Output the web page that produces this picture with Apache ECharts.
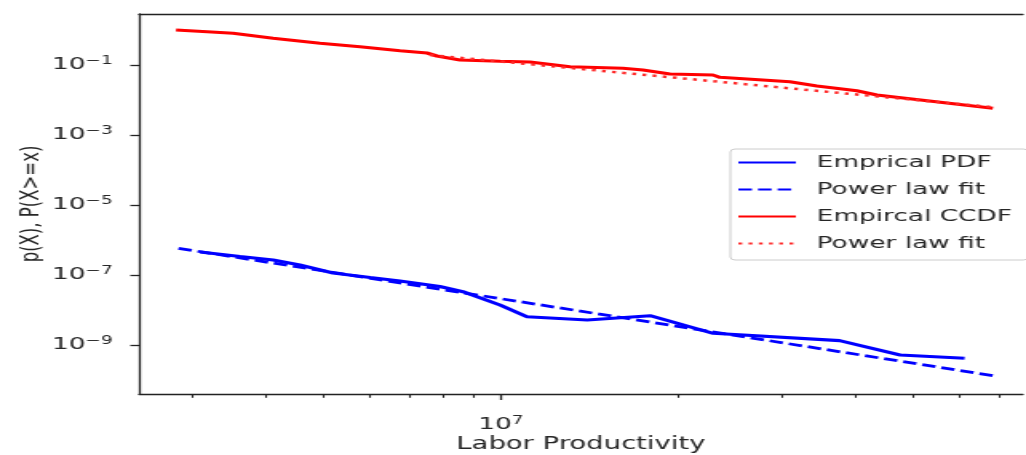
<!DOCTYPE html>
<html>
<head>
<meta charset="utf-8">
<script src="https://cdn.jsdelivr.net/npm/echarts@6/dist/echarts.min.js"></script>
<style>
  html, body { margin: 0; padding: 0; background: #fff; overflow: hidden; }
  #main { width: 642px; height: 455px; transform: scaleX(1.59813); transform-origin: 0 0; }
</style>
</head>
<body>
<div id="main"></div>
<script>
// ---- data ----
const legendLabels = ['Emprical PDF', 'Power law fit', 'Empircal CCDF', 'Power law fit'];

const pdfX = [3.09e6, 3.61e6, 4.11e6, 4.56e6, 5.19e6, 6.0e6, 6.74e6, 7.88e6, 8.62e6, 9.96e6,
              1.107e7, 1.40e7, 1.79e7, 2.29e7, 3.75e7, 4.75e7, 6.11e7];
const pdfY = [4.54e-7, 3.38e-7, 2.68e-7, 1.93e-7, 1.14e-7, 8.49e-8, 6.74e-8, 4.69e-8, 3.33e-8, 1.39e-8,
              6.44e-9, 5.18e-9, 6.88e-9, 2.16e-9, 1.33e-9, 5.18e-10, 4.17e-10];

const pdfFitX = [2.84e6, 6.82e7];
const pdfFitY = [5.8e-7, 1.33e-10];

const ccdfX = [2.813e6, 3.176e6, 3.514e6, 4.108e6, 4.934e6, 5.768e6, 6.743e6, 7.492e6, 7.789e6, 8.518e6,
               9.96e6, 1.12e7, 1.309e7, 1.61e7, 1.741e7, 1.934e7, 2.288e7, 2.35e7, 3.09e7, 3.433e7,
               4.012e7, 4.338e7, 6.823e7];
const ccdfY = [1.0, 0.894, 0.805, 0.579, 0.417, 0.333, 0.256, 0.220, 0.181, 0.139,
               0.128, 0.122, 0.0894, 0.0805, 0.072, 0.0553, 0.0518, 0.0446, 0.0333, 0.0251,
               0.0184, 0.0139, 0.0058];

const ccdfFitX = [7.58e6, 6.88e7];
const ccdfFitY = [0.193, 0.00618];

// tick positions
const xMajorTicks = [1e7];
const xMinorTicks = [3e6, 4e6, 5e6, 6e6, 7e6, 8e6, 9e6, 2e7, 3e7, 4e7, 5e7, 6e7, 7e7];
const yTicks = [1e-9, 1e-7, 1e-5, 1e-3, 1e-1];

const xLabel = 'Labor Productivity';
const yLabel = 'p(X), P(X>=x)';

// ---- helpers ----
function pairs(xs, ys) { return xs.map((x, i) => [x, ys[i]]); }
function powLabel(v) {
  const e = Math.round(Math.log10(v));
  const s = (e < 0 ? '\u2212' : '') + Math.abs(e);
  return '{b|10}{s|' + s + '}';
}
const FONT = 'DejaVu Sans';
const TXT = '#262626';
const richStyle = {
  b: { fontFamily: FONT, fontSize: 16.5, lineHeight: 20, color: TXT },
  s: { fontFamily: FONT, fontSize: 11.5, lineHeight: 11.5, color: TXT, verticalAlign: 'top' }
};
const AXLINE = { color: '#222', width: 1.3 };
const xMin = 2.4345e6, xMax = 7.669e7;
const yMin = 3.981e-11, yMax = 2.8646;

const chart = echarts.init(document.getElementById('main'), null, { renderer: 'canvas' });
const nameMap = { pdf: legendLabels[0], pdfFit: legendLabels[1], ccdf: legendLabels[2], ccdfFit: legendLabels[3] };

chart.setOption({
  animation: false,
  backgroundColor: '#fff',
  grid: { left: 87, right: 2, top: 14, bottom: 61, containLabel: false, outerBoundsMode: 'none' },
  xAxis: [
    {
      type: 'log', position: 'bottom', min: xMin, max: xMax,
      axisLine: { show: true, onZero: false, lineStyle: AXLINE },
      axisTick: { show: true, length: 6, customValues: xMajorTicks, lineStyle: { color: '#222', width: 1.3 } },
      axisLabel: { show: true, margin: 21, customValues: xMajorTicks, formatter: powLabel, rich: richStyle },
      splitLine: { show: false }, minorTick: { show: false },
      name: xLabel, nameLocation: 'middle', nameGap: 42.5, nameMoveOverlap: false,
      nameTextStyle: { fontFamily: FONT, fontSize: 17.2, color: TXT }
    },
    {
      type: 'log', position: 'bottom', min: xMin, max: xMax,
      axisLine: { show: false, onZero: false },
      axisTick: { show: true, length: 3.8, customValues: xMinorTicks, lineStyle: { color: '#222', width: 1.1 } },
      axisLabel: { show: false }, splitLine: { show: false }
    },
    {
      type: 'log', position: 'top', min: xMin, max: xMax,
      axisLine: { show: true, onZero: false, lineStyle: AXLINE },
      axisTick: { show: false }, axisLabel: { show: false }, splitLine: { show: false }
    }
  ],
  yAxis: [
    {
      type: 'log', position: 'left', min: yMin, max: yMax,
      axisLine: { show: true, onZero: false, lineStyle: AXLINE },
      axisTick: { show: true, length: 5.5, customValues: yTicks, lineStyle: { color: '#222', width: 1.3 } },
      axisLabel: { show: true, margin: 16.5, customValues: yTicks, formatter: powLabel, rich: richStyle },
      splitLine: { show: false }, minorTick: { show: false },
      name: yLabel, nameLocation: 'middle', nameGap: 59, nameRotate: 90, nameMoveOverlap: false,
      nameTextStyle: { fontFamily: FONT, fontSize: 16.5, color: TXT }
    }
  ],
  legend: {
    orient: 'vertical', left: 457, top: 149,
    data: ['pdf', 'pdfFit', 'ccdf', 'ccdfFit'],
    formatter: n => nameMap[n],
    itemWidth: 36, itemHeight: 14, itemGap: 10,
    padding: [5, 10, 8, 4],
    backgroundColor: 'rgba(255,255,255,0.85)',
    borderColor: '#cccccc', borderWidth: 1, borderRadius: 3,
    itemStyle: { opacity: 0 },
    textStyle: { fontFamily: FONT, fontSize: 16.5, lineHeight: 16, color: TXT, padding: [0, 0, 0, 8] },
    selectedMode: false
  },
  series: [
    { name: 'pdf', type: 'line', data: pairs(pdfX, pdfY), xAxisIndex: 0, yAxisIndex: 0,
      symbol: 'none', showSymbol: false, lineStyle: { color: '#0000ff', width: 3.1 }, itemStyle: { color: '#0000ff' } },
    { name: 'pdfFit', type: 'line', data: pairs(pdfFitX, pdfFitY), xAxisIndex: 0, yAxisIndex: 0,
      symbol: 'none', showSymbol: false, lineStyle: { color: '#0000ff', width: 2.8, type: [8.5, 3.8], cap: 'butt' }, itemStyle: { color: '#0000ff' } },
    { name: 'ccdf', type: 'line', data: pairs(ccdfX, ccdfY), xAxisIndex: 0, yAxisIndex: 0,
      symbol: 'none', showSymbol: false, lineStyle: { color: '#ff0000', width: 3.1 }, itemStyle: { color: '#ff0000' } },
    { name: 'ccdfFit', type: 'line', data: pairs(ccdfFitX, ccdfFitY), xAxisIndex: 0, yAxisIndex: 0,
      symbol: 'none', showSymbol: false, lineStyle: { color: '#ff2a2a', width: 2.5, type: [2.4, 4], cap: 'butt' }, itemStyle: { color: '#ff2a2a' } }
  ]
});
</script>
</body>
</html>
